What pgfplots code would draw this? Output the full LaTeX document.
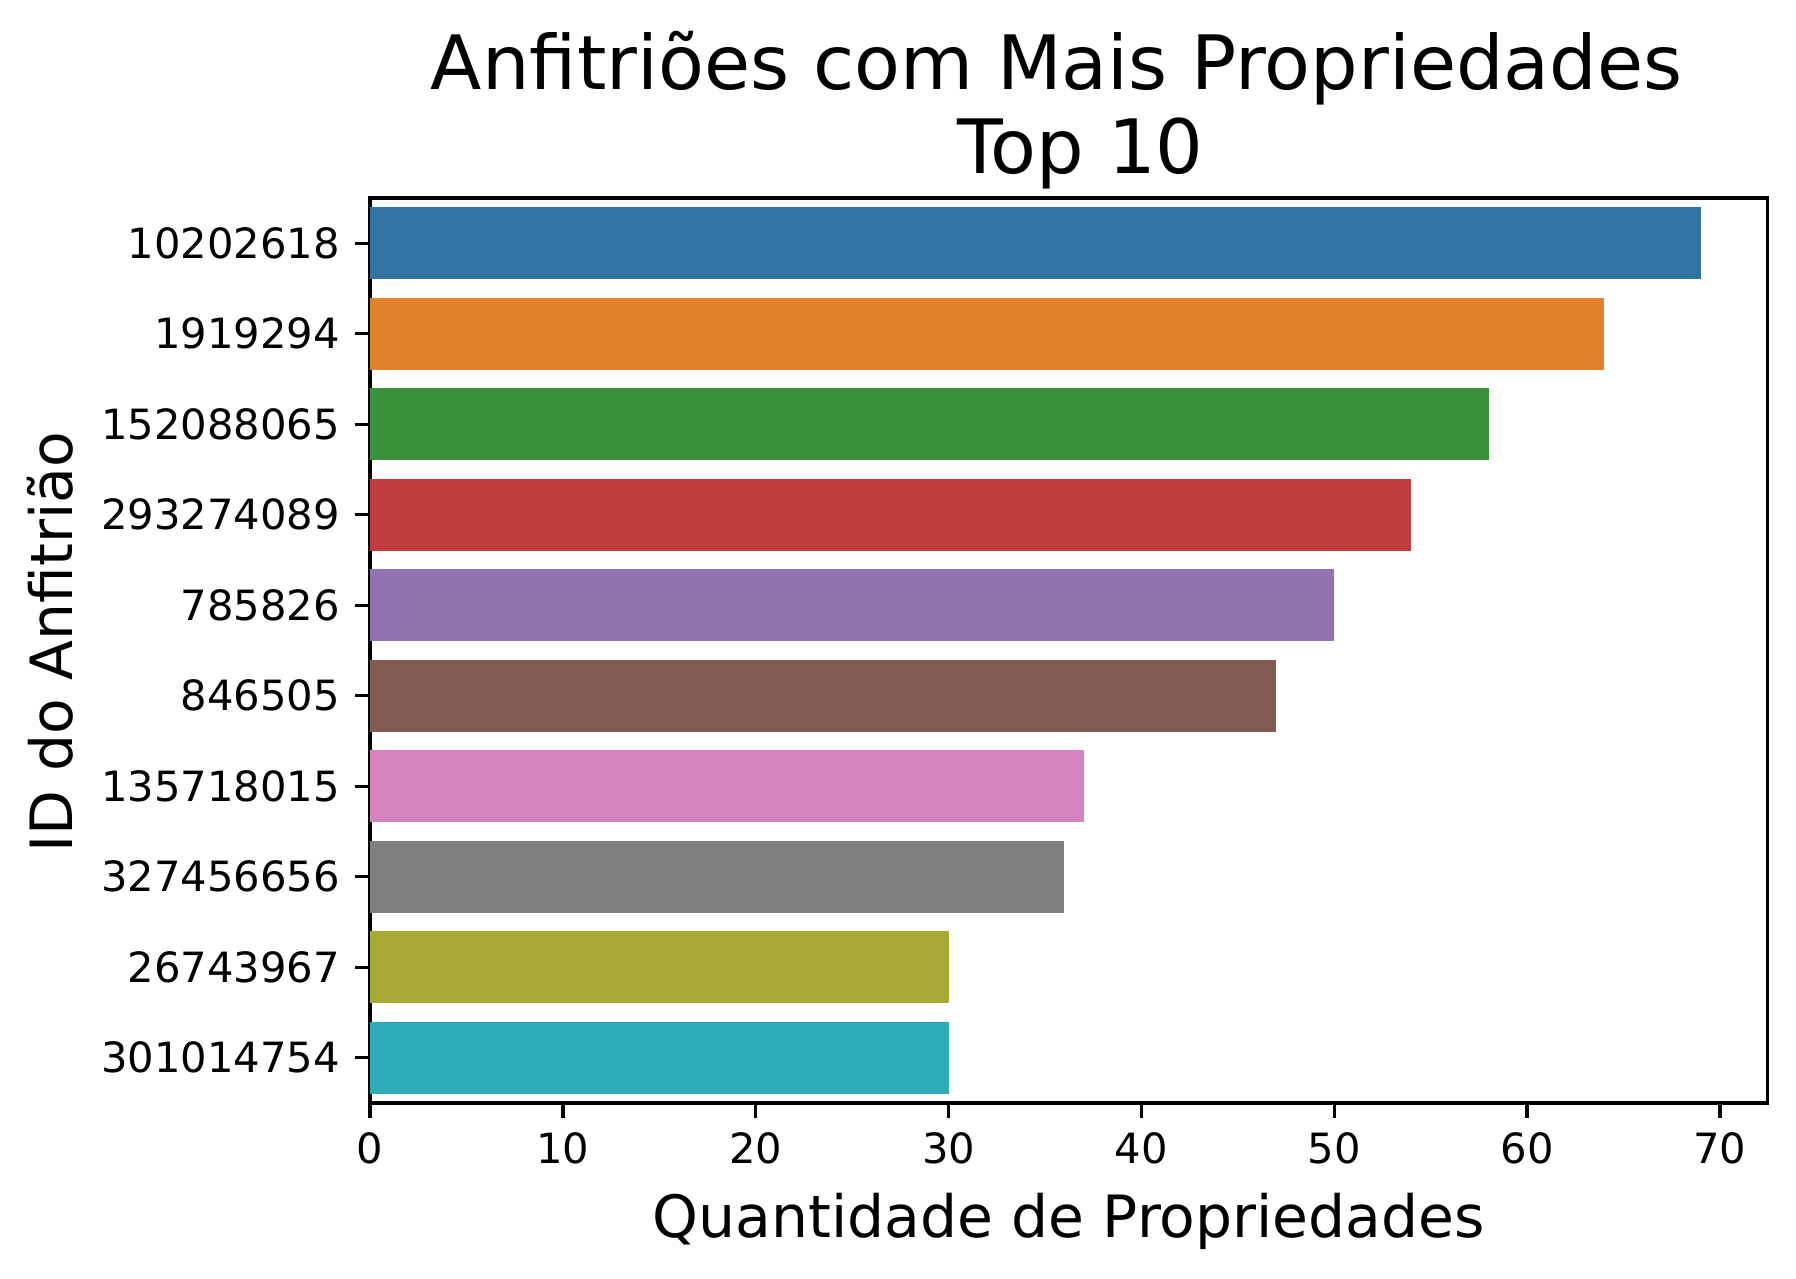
\documentclass[border=0pt]{standalone}
\usepackage{pgfplots}
\pgfplotsset{compat=1.18}
\usepackage{fontspec}
\setmainfont{DejaVu Sans}

\definecolor{c0}{HTML}{3274A1}
\definecolor{c1}{HTML}{E1812C}
\definecolor{c2}{HTML}{3A923A}
\definecolor{c3}{HTML}{C03D3E}
\definecolor{c4}{HTML}{9372B2}
\definecolor{c5}{HTML}{845B53}
\definecolor{c6}{HTML}{D684BD}
\definecolor{c7}{HTML}{7F7F7F}
\definecolor{c8}{HTML}{A9AA35}
\definecolor{c9}{HTML}{2EABB8}

\begin{document}
\begin{tikzpicture}
\begin{axis}[
  name=ax,
  scale only axis,
  width=335.3pt, height=217.2pt,
  xbar, bar width=0.8,
  xmin=0, xmax=72.45,
  ymin=-0.5, ymax=9.5,
  y dir=reverse,
  ytick={0,1,2,3,4,5,6,7,8,9},
  yticklabels={10202618,1919294,152088065,293274089,785826,846505,135718015,327456656,26743967,301014754},
  xtick={0,10,20,30,40,50,60,70},
  tick pos=left,
  tick align=outside,
  major tick length=3.5pt,
  every tick/.append style={black, line width=0.8pt},
  axis line style={black, line width=0.8pt},
  /pgf/number format/assume math mode=true,
  tick label style={font=\fontsize{10}{12}\selectfont, inner sep=0pt},
  xticklabel style={yshift=-3.5pt},
  yticklabel style={xshift=-3.5pt},
  xlabel={Quantidade de Propriedades},
  ylabel={ID do Anfitrião},
  label style={font=\fontsize{14}{17}\selectfont, inner sep=0pt},
  xlabel style={at={(axis description cs:0.5,-0.1483)}, anchor=base},
  ylabel style={at={(axis description cs:-0.2126,0.509)}, anchor=base},
  title={Anfitriões com Mais Propriedades\makebox[0.318em]{}\\\makebox[0.318em]{}Top 10},
  title style={align=center, font=\fontsize{18}{20.2}\selectfont, inner sep=0pt,
    anchor=south, at={(axis description cs:0.5,0.981)}},
]
\addplot[fill=c0, draw=none, bar shift=0pt] coordinates {(69,0)};
\addplot[fill=c1, draw=none, bar shift=0pt] coordinates {(64,1)};
\addplot[fill=c2, draw=none, bar shift=0pt] coordinates {(58,2)};
\addplot[fill=c3, draw=none, bar shift=0pt] coordinates {(54,3)};
\addplot[fill=c4, draw=none, bar shift=0pt] coordinates {(50,4)};
\addplot[fill=c5, draw=none, bar shift=0pt] coordinates {(47,5)};
\addplot[fill=c6, draw=none, bar shift=0pt] coordinates {(37,6)};
\addplot[fill=c7, draw=none, bar shift=0pt] coordinates {(36,7)};
\addplot[fill=c8, draw=none, bar shift=0pt] coordinates {(30,8)};
\addplot[fill=c9, draw=none, bar shift=0pt] coordinates {(30,9)};
\end{axis}
\pgfresetboundingbox
\path[use as bounding box] ([shift={(-88.8pt,-42pt)}]ax.south west) rectangle ([shift={(6.9pt,47.5pt)}]ax.north east);
\end{tikzpicture}
\end{document}
